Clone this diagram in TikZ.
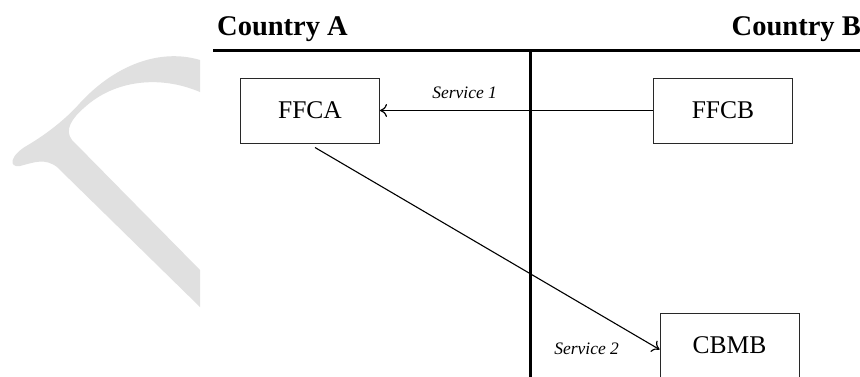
\documentclass[tikz,border=0pt]{standalone}
\usepackage{fontspec}
\setmainfont{Liberation Serif}
\usetikzlibrary{arrows.meta}
\definecolor{wmgray}{RGB}{224,224,224}
\definecolor{boxline}{RGB}{40,40,40}
\tikzset{
  entity/.style={draw=boxline, line width=1pt, rectangle, inner sep=0pt,
    minimum width=139pt, minimum height=65pt,
    font=\fontsize{25.5}{30}\selectfont},
  heading/.style={font=\fontsize{28.5}{33}\selectfont\bfseries, inner sep=0pt},
  flowlabel/.style={font=\fontsize{17.5}{22}\selectfont\itshape, inner sep=0pt},
  border/.style={line width=3pt, black},
  flow/.style={line width=1.1pt, -{To[length=7pt,width=13pt,line width=1.2pt]}}
}
\begin{document}
\begin{tikzpicture}[x=1pt,y=-1pt]
  \clip (0,0) rectangle (860,376);
  \fill[white] (0,0) rectangle (860,376);
  % light grey glyph shape on the left
  \fill[wmgray] (200,60) .. controls (160,48) and (115,65) .. (80,103)
    .. controls (65,120) and (45,135) .. (28,145)
    .. controls (10,155) and (8,168) .. (20,166)
    .. controls (35,162) and (45,158) .. (57,167)
    -- (200,307) -- (200,270) -- (72,140)
    .. controls (64,130) and (72,118) .. (85,107)
    .. controls (115,80) and (160,75) .. (200,92) -- cycle;
  % headings and the border between the two countries
  \node[heading, anchor=base west] (ca) at (217,35) {Country A};
  \node[heading, anchor=base east] (cb) at (861,35) {Country B};
  \draw[border] (213,50) -- (860,50);
  \draw[border] (530,50) -- (530,380);
  % entities
  \node[entity] (ffca) at (310,110.5) {FFCA};
  \node[entity] (ffcb) at (723,110.5) {FFCB};
  \node[entity] (cbmb) at (729.5,345.5) {CBMB};
  % services
  \draw[flow] (ffcb.west) -- (ffca.east)
    node[flowlabel, pos=0.69, anchor=base, yshift=12pt] {Service 1};
  \draw[flow] ([xshift=5pt,yshift=-4pt]ffca.south) -- ([yshift=-4pt]cbmb.west)
    node[flowlabel, at end, anchor=base east, xshift=-40pt, yshift=-5pt] {Service 2};
\end{tikzpicture}
\end{document}
